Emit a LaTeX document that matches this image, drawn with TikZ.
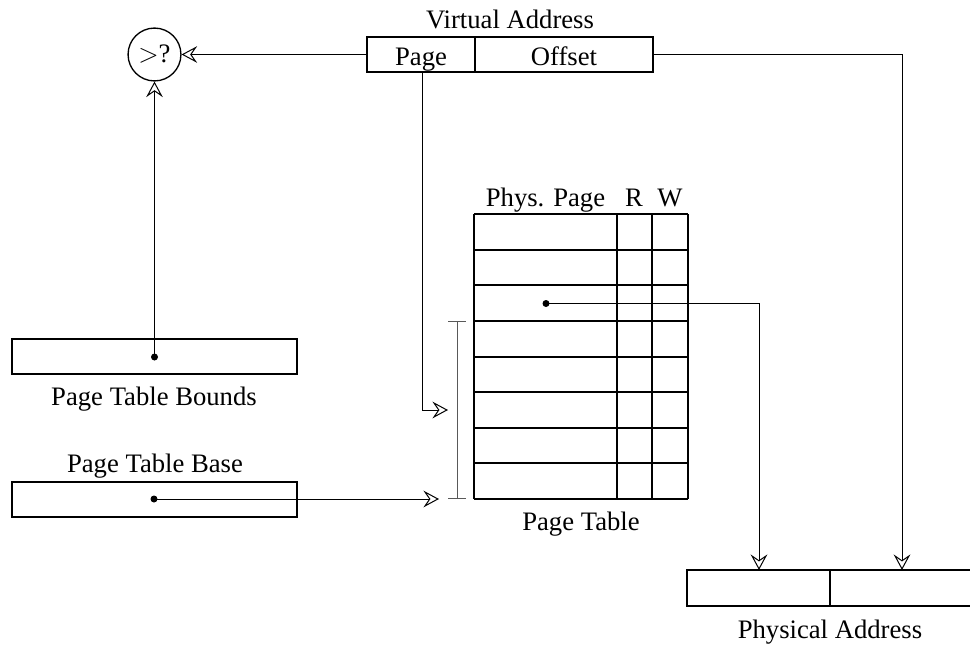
\documentclass[tikz,border=0pt]{standalone}
\usepackage{fontspec}
\setmainfont{Liberation Serif}
\usetikzlibrary{arrows.meta}

\begin{document}
\begin{tikzpicture}[x=0.45pt,y=-0.45pt,
  box/.style={line width=0.9pt},
  link/.style={line width=0.45pt,-{Stealth[open,length=7pt,width=7.5pt,inset=2.6pt]}},
  lbl/.style={font=\fontsize{12}{14}\selectfont,inner sep=0pt,anchor=base}]
\useasboundingbox (0,0) rectangle (970,647);

% virtual address
\draw[box] (367,37) rectangle (653,72);
\draw[box] (475,37) -- (475,72);
\node[lbl] (va) at (510,28) {Virtual Address};
\node[lbl] (vpage) at (421,65) {Page};
\node[lbl] (voff) at (564,65) {Offset};
\coordinate (vaW) at (367,54.5);
\coordinate (vaE) at (653,54.5);
\coordinate (vaPg) at (422,72);

% bounds check
\node[draw,circle,line width=0.6pt,minimum size=23.8pt,inner sep=0pt,
  font=\fontsize{12}{14}\selectfont] (cmp) at (154.5,54.5) {$>$?};

% page table bounds and base
\draw[box] (12,339) rectangle (297,374);
\node[lbl] (bdlbl) at (154,405) {Page Table Bounds};
\draw[box] (12,482) rectangle (297,517);
\node[lbl] (bslbl) at (155,472) {Page Table Base};
\coordinate (bddot) at (154.5,357);
\coordinate (bsdot) at (154,499);
\fill (bddot) circle[radius=3.5];
\fill (bsdot) circle[radius=3.5];

% page table
\foreach \i in {0,...,8}
  \draw[box] (474,214+35.625*\i) -- (688,214+35.625*\i);
\foreach \x in {474,617,652,688}
  \draw[box] (\x,214) -- (\x,499);
\node[lbl] (pplbl) at (545.5,206) {Phys. Page};
\node[lbl] (rlbl) at (634,206) {R};
\node[lbl] (wlbl) at (670,206) {W};
\node[lbl] (ptlbl) at (581,530) {Page Table};
\coordinate (entry) at (546,303.5);
\fill (entry) circle[radius=3.5];

% bracket
\draw[gray!70!black,line width=0.45pt] (457,321) -- (457,498)
  (448,321) -- (466,321) (448,498) -- (466,498);
\coordinate (idx) at (448,410);
\coordinate (base) at (439,499);

% physical address
\draw[box] (687,570) rectangle (975,606);
\draw[box] (830,570) -- (830,606);
\node[lbl] (palbl) at (830,638) {Physical Address};
\coordinate (paPg) at (759,570);
\coordinate (paOff) at (902,570);

% connectors
\draw[link] (vaW) -- (cmp.east);
\draw[link] (bddot) -- (cmp.south);
\draw[link] (vaPg) |- (idx);
\draw[link] (bsdot) -- (base);
\draw[link] (entry) -| (paPg);
\draw[link] (vaE) -| (paOff);

\end{tikzpicture}
\end{document}
